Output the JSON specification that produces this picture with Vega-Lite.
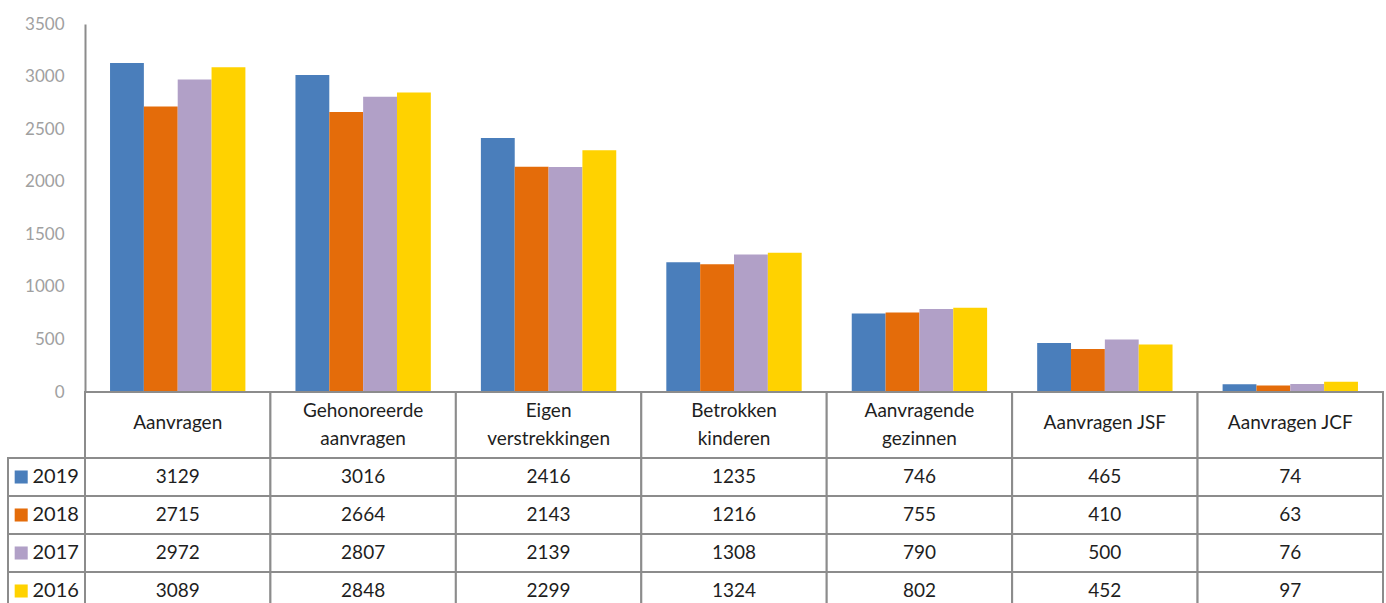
{
  "$schema": "https://vega.github.io/schema/vega-lite/v6.json",
  "autosize": {"type": "pad"},
  "padding": {"left": 7, "top": 15, "right": 0, "bottom": 0},
  "background": "white",
  "config": {
    "view": {"stroke": null},
    "font": "Lato",
    "text": {"font": "Lato"}
  },
  "datasets": {
    "cells": [
      {"cat": "Aanvragen", "year": "2019", "value": 3129},
      {"cat": "Aanvragen", "year": "2018", "value": 2715},
      {"cat": "Aanvragen", "year": "2017", "value": 2972},
      {"cat": "Aanvragen", "year": "2016", "value": 3089},
      {"cat": "Gehonoreerde aanvragen", "year": "2019", "value": 3016},
      {"cat": "Gehonoreerde aanvragen", "year": "2018", "value": 2664},
      {"cat": "Gehonoreerde aanvragen", "year": "2017", "value": 2807},
      {"cat": "Gehonoreerde aanvragen", "year": "2016", "value": 2848},
      {"cat": "Eigen verstrekkingen", "year": "2019", "value": 2416},
      {"cat": "Eigen verstrekkingen", "year": "2018", "value": 2143},
      {"cat": "Eigen verstrekkingen", "year": "2017", "value": 2139},
      {"cat": "Eigen verstrekkingen", "year": "2016", "value": 2299},
      {"cat": "Betrokken kinderen", "year": "2019", "value": 1235},
      {"cat": "Betrokken kinderen", "year": "2018", "value": 1216},
      {"cat": "Betrokken kinderen", "year": "2017", "value": 1308},
      {"cat": "Betrokken kinderen", "year": "2016", "value": 1324},
      {"cat": "Aanvragende gezinnen", "year": "2019", "value": 746},
      {"cat": "Aanvragende gezinnen", "year": "2018", "value": 755},
      {"cat": "Aanvragende gezinnen", "year": "2017", "value": 790},
      {"cat": "Aanvragende gezinnen", "year": "2016", "value": 802},
      {"cat": "Aanvragen JSF", "year": "2019", "value": 465},
      {"cat": "Aanvragen JSF", "year": "2018", "value": 410},
      {"cat": "Aanvragen JSF", "year": "2017", "value": 500},
      {"cat": "Aanvragen JSF", "year": "2016", "value": 452},
      {"cat": "Aanvragen JCF", "year": "2019", "value": 74},
      {"cat": "Aanvragen JCF", "year": "2018", "value": 63},
      {"cat": "Aanvragen JCF", "year": "2017", "value": 76},
      {"cat": "Aanvragen JCF", "year": "2016", "value": 97}
    ],
    "cats": [
      {"cat": "Aanvragen", "label": "Aanvragen"},
      {"cat": "Gehonoreerde aanvragen", "label": "Gehonoreerde\naanvragen"},
      {"cat": "Eigen verstrekkingen", "label": "Eigen\nverstrekkingen"},
      {"cat": "Betrokken kinderen", "label": "Betrokken\nkinderen"},
      {"cat": "Aanvragende gezinnen", "label": "Aanvragende\ngezinnen"},
      {"cat": "Aanvragen JSF", "label": "Aanvragen JSF"},
      {"cat": "Aanvragen JCF", "label": "Aanvragen JCF"}
    ],
    "years": [
      {"year": "2019"},
      {"year": "2018"},
      {"year": "2017"},
      {"year": "2016"}
    ]
  },
  "columns": 2,
  "spacing": 0,
  "bounds": "flush",
  "concat": [
    {
      "width": 77,
      "height": 368,
      "data": {"values": []},
      "mark": "text",
      "encoding": {}
    },
    {
      "width": 1298,
      "height": 368,
      "data": {"name": "cells"},
      "mark": {"type": "bar"},
      "encoding": {
        "x": {
          "field": "cat",
          "type": "nominal",
          "scale": {
            "domain": ["Aanvragen", "Gehonoreerde aanvragen", "Eigen verstrekkingen", "Betrokken kinderen", "Aanvragende gezinnen", "Aanvragen JSF", "Aanvragen JCF"],
            "paddingInner": 0.27,
            "paddingOuter": 0.135
          },
          "axis": null
        },
        "xOffset": {
          "field": "year",
          "type": "nominal",
          "scale": {"domain": ["2019", "2018", "2017", "2016"], "paddingInner": 0, "paddingOuter": 0}
        },
        "y": {
          "field": "value",
          "type": "quantitative",
          "scale": {"domain": [0, 3500], "nice": false},
          "axis": {
            "title": null,
            "values": [0, 500, 1000, 1500, 2000, 2500, 3000, 3500],
            "format": "d",
            "grid": false,
            "ticks": false,
            "domain": true,
            "domainColor": "#8c8c8c",
            "domainWidth": 2,
            "labelColor": "#a0a0a0",
            "labelFontSize": 17,
            "labelFont": "Lato",
            "labelPadding": 21
          }
        },
        "color": {
          "field": "year",
          "type": "nominal",
          "scale": {"domain": ["2019", "2018", "2017", "2016"], "range": ["#4a7ebb", "#e46c0a", "#b1a0c7", "#ffd200"]},
          "legend": null
        }
      }
    },
    {
      "width": 77,
      "height": 66,
      "data": {"values": []},
      "mark": "text",
      "encoding": {}
    },
    {
      "width": 1298,
      "height": 66,
      "data": {"name": "cats"},
      "encoding": {
        "x": {
          "field": "cat",
          "type": "nominal",
          "scale": {
            "domain": ["Aanvragen", "Gehonoreerde aanvragen", "Eigen verstrekkingen", "Betrokken kinderen", "Aanvragende gezinnen", "Aanvragen JSF", "Aanvragen JCF"],
            "paddingInner": 0,
            "paddingOuter": 0
          },
          "axis": null
        }
      },
      "layer": [
        {"mark": {"type": "rect", "fill": "white", "stroke": "#8c8c8c", "strokeWidth": 2}},
        {
          "transform": [{"filter": "indexof(datum.label, '\\n') < 0"}],
          "mark": {"type": "text", "fontSize": 19, "color": "#1e1e1e", "baseline": "middle", "align": "center", "dy": -2},
          "encoding": {"text": {"field": "label", "type": "nominal"}}
        },
        {
          "transform": [{"filter": "indexof(datum.label, '\\n') >= 0"}],
          "mark": {"type": "text", "fontSize": 19, "color": "#1e1e1e", "lineBreak": "\n", "lineHeight": 28, "baseline": "middle", "align": "center", "dy": -14},
          "encoding": {"text": {"field": "label", "type": "nominal"}}
        }
      ]
    },
    {
      "width": 77,
      "height": 152,
      "data": {"name": "years"},
      "encoding": {
        "y": {
          "field": "year",
          "type": "nominal",
          "scale": {"domain": ["2019", "2018", "2017", "2016"], "paddingInner": 0, "paddingOuter": 0},
          "axis": null
        }
      },
      "layer": [
        {"mark": {"type": "rect", "fill": "white", "stroke": "#8c8c8c", "strokeWidth": 2}},
        {
          "mark": {"type": "point", "shape": "square", "filled": true, "opacity": 1, "size": 170},
          "encoding": {
            "x": {"datum": "swatch", "type": "nominal", "scale": {"type": "point", "domain": ["swatch", "label"], "padding": 0.618, "align": 0.31}, "axis": null},
            "color": {
              "field": "year",
              "type": "nominal",
              "scale": {"domain": ["2019", "2018", "2017", "2016"], "range": ["#4a7ebb", "#e46c0a", "#b1a0c7", "#ffd200"]},
              "legend": null
            }
          }
        },
        {
          "mark": {"type": "text", "fontSize": 20, "color": "#1e1e1e", "baseline": "middle", "align": "center"},
          "encoding": {
            "x": {"datum": "label", "type": "nominal", "scale": {"type": "point", "domain": ["swatch", "label"], "padding": 0.618, "align": 0.31}, "axis": null},
            "text": {"field": "year", "type": "nominal"}
          }
        }
      ]
    },
    {
      "width": 1298,
      "height": 152,
      "data": {"name": "cells"},
      "encoding": {
        "x": {
          "field": "cat",
          "type": "nominal",
          "scale": {
            "domain": ["Aanvragen", "Gehonoreerde aanvragen", "Eigen verstrekkingen", "Betrokken kinderen", "Aanvragende gezinnen", "Aanvragen JSF", "Aanvragen JCF"],
            "paddingInner": 0,
            "paddingOuter": 0
          },
          "axis": null
        },
        "y": {
          "field": "year",
          "type": "nominal",
          "scale": {"domain": ["2019", "2018", "2017", "2016"], "paddingInner": 0, "paddingOuter": 0},
          "axis": null
        }
      },
      "layer": [
        {"mark": {"type": "rect", "fill": "white", "stroke": "#8c8c8c", "strokeWidth": 2}},
        {
          "mark": {"type": "text", "fontSize": 19, "color": "#1e1e1e", "baseline": "middle", "align": "center"},
          "encoding": {"text": {"field": "value", "type": "quantitative", "format": "d"}}
        }
      ]
    }
  ]
}
